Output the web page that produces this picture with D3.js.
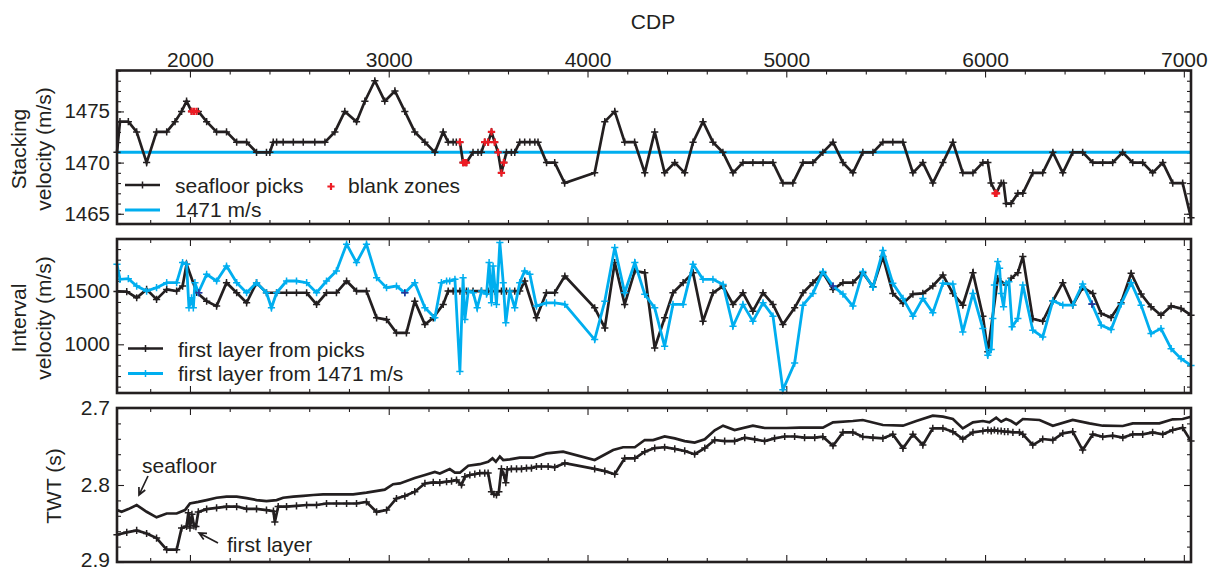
<!DOCTYPE html>
<html>
<head>
<meta charset="utf-8">
<script src="https://cdn.jsdelivr.net/npm/d3@7"></script>
<style>
  body { margin: 0; background: #fff; }
  svg { display: block; }
  text { font-family: "Liberation Sans", Arial, Helvetica, sans-serif; fill: #231f20; }
</style>
</head>
<body>
<svg id="chart" width="1222" height="571"></svg>
<script>
// ---------- CDP axis ----------
const cdpMajor = [2000, 3000, 4000, 5000, 6000, 7000];
const cdpMinor = d3.range(1800, 7001, 200).filter(v => v % 1000 !== 0);

// ---------- Panel 1: stacking velocity picks along the seafloor ----------
const stackCdp = [1633,1648,1690,1732,1782,1832,1883,1925,1958,1983,
  2008,2042,2084,2134,2184,2235,2285,2335,2385,2402,
  2419,2436,2469,2520,2570,2628,2679,2729,2779,2838,
  2880,2930,2980,3031,3081,3131,3182,3232,3274,3299,
  3324,3340,3358,3374,3391,3424,3449,3466,3483,3500,
  3517,3533,3550,3567,3579,3592,3617,3634,3659,3684,
  3710,3735,3751,3794,3835,3885,4036,4087,4137,4187,
  4237,4288,4338,4388,4439,4489,4531,4581,4631,4681,
  4732,4782,4832,4883,4933,4983,5033,5084,5134,5184,
  5235,5285,5335,5385,5436,5486,5536,5587,5637,5687,
  5737,5788,5838,5888,5939,5989,6014,6030,6056,6081,
  6093,6106,6131,6165,6190,6240,6290,6341,6391,6441,
  6491,6542,6592,6642,6692,6743,6793,6843,6894,6944,
  6994,7036];
const stackVel = [1471,1474,1474,1473,1470,1473,1473,1474,1475,1476,
  1475,1475,1474,1473,1473,1472,1472,1471,1471,1471,
  1472,1472,1472,1472,1472,1472,1472,1473,1475,1474,
  1476,1478,1476,1477,1475,1473,1472,1471,1473,1472,
  1472,1472,1472,1470,1470,1471,1471,1471,1472,1472,
  1473,1472,1471,1469,1470,1471,1471,1471,1472,1472,
  1472,1472,1472,1470,1470,1468,1469,1474,1475,1472,
  1472,1469,1473,1469,1470,1469,1472,1474,1472,1471,
  1469,1470,1470,1470,1470,1468,1468,1470,1470,1471,
  1472,1470,1469,1471,1471,1472,1472,1472,1469,1470,
  1468,1470,1472,1469,1469,1470,1470,1468,1467,1468,
  1468,1466,1466,1467,1467,1469,1469,1471,1469,1471,
  1471,1470,1470,1470,1471,1470,1470,1469,1470,1468,
  1468,1464.6];
const blankCdp = [2008,2020,2033,3358,3374,3383,3391,3483,3500,3517,3533,3550,3567,3579,6050,6058];
const blankVel = [1475,1475,1475,1472,1470,1470,1470,1472,1472,1473,1472,1471,1469,1470,1467,1467];
const constVel = 1471;

// ---------- Panel 2: first-layer interval velocity ----------
const intPickCdp = [1633,1682,1732,1782,1832,1883,1933,1963,1983,2034,
  2084,2134,2184,2235,2285,2335,2385,2436,2486,2536,
  2587,2637,2687,2737,2788,2838,2888,2939,2989,3039,
  3089,3131,3182,3224,3274,3299,3324,3358,3391,3424,
  3466,3500,3533,3567,3592,3634,3659,3684,3743,3793,
  3835,3886,4036,4087,4137,4187,4238,4288,4338,4388,
  4430,4481,4531,4581,4631,4682,4732,4782,4832,4883,
  4933,4983,5042,5084,5134,5184,5235,5285,5335,5385,
  5436,5486,5536,5587,5637,5687,5737,5788,5838,5888,
  5939,5989,6014,6064,6106,6131,6165,6190,6240,6290,
  6341,6391,6441,6491,6542,6584,6634,6684,6735,6785,
  6835,6885,6936,6986,7036];
const intPickVel = [1500,1497,1440,1519,1424,1519,1503,1550,1756,1490,
  1408,1361,1582,1487,1392,1582,1487,1487,1487,1487,
  1487,1377,1487,1487,1598,1503,1503,1250,1234,1108,
  1108,1408,1187,1250,1377,1503,1503,1503,1503,1503,
  1503,1503,1503,1503,1503,1503,1503,1598,1250,1487,
  1487,1645,1345,1155,1772,1377,1693,1677,965,1250,
  1487,1582,1677,1218,1487,1550,1377,1487,1313,1487,
  1377,1187,1345,1487,1582,1677,1519,1582,1582,1677,
  1544,1829,1481,1386,1475,1481,1551,1655,1481,1370,
  1677,1266,930,1620,1560,1623,1677,1829,1240,1218,
  1411,1582,1370,1538,1481,1291,1253,1392,1671,1475,
  1354,1275,1361,1338,1275];
const intConstCdp = [1633,1648,1690,1732,1782,1832,1883,1933,1963,1983,
  1995,2008,2017,2025,2042,2084,2134,2184,2235,2285,
  2335,2385,2410,2436,2486,2536,2587,2637,2687,2737,
  2788,2838,2888,2939,2989,3039,3081,3131,3182,3232,
  3265,3291,3307,3333,3358,3374,3383,3400,3425,3445,
  3467,3492,3505,3517,3525,3542,3559,3576,3589,3609,
  3634,3659,3684,3710,3743,3793,3835,3886,4036,4087,
  4137,4187,4238,4288,4338,4388,4430,4481,4531,4581,
  4631,4682,4732,4782,4832,4883,4933,4983,5042,5084,
  5134,5184,5235,5285,5335,5385,5436,5486,5536,5587,
  5637,5687,5737,5788,5838,5888,5939,5989,6014,6031,
  6039,6047,6064,6073,6081,6093,6106,6120,6136,6165,
  6190,6240,6290,6341,6391,6441,6491,6538,6584,6634,
  6684,6735,6785,6835,6885,6936,6986,7036];
const intConstVel = [1756,1614,1620,1550,1503,1535,1582,1582,1772,1756,
  1345,1440,1345,1582,1487,1661,1598,1740,1582,1487,
  1582,1487,1345,1487,1598,1598,1582,1487,1598,1693,
  1946,1772,1946,1630,1535,1550,1487,1582,1345,1250,
  1582,1598,1598,1614,744,1630,1234,1503,1487,1345,
  1503,1475,1772,1392,1740,1377,1962,1582,1203,1503,
  1345,1582,1693,1661,1361,1392,1392,1377,1045,1408,
  1914,1487,1772,1472,1345,981,1377,1377,1756,1614,
  1614,1566,1171,1377,1218,1392,1266,570,823,1370,
  1481,1687,1551,1475,1361,1687,1538,1886,1576,1434,
  1266,1434,1298,1576,1570,1117,1481,1149,896,950,
  1244,1560,1782,1718,1481,1354,1576,1592,1165,1244,
  1560,1133,1070,1411,1370,1370,1570,1380,1181,1139,
  1380,1582,1370,1101,1149,959,864,801];
const sharedCdp = [2045, 3081, 5235, 6538];
const sharedVel = [1487, 1487, 1551, 1380];

// ---------- Panel 3: two-way travel time ----------
const seafloorCdp = [1633,1656,1690,1732,1782,1832,1883,1933,1975,2000,
  2042,2084,2134,2184,2235,2285,2335,2385,2436,2469,
  2520,2570,2620,2670,2721,2821,2888,2980,3022,3056,
  3131,3182,3232,3257,3307,3333,3358,3400,3458,3500,
  3522,3539,3559,3576,3609,3659,3726,3793,3877,4036,
  4129,4179,4238,4288,4330,4388,4439,4489,4539,4590,
  4640,4682,4740,4832,4891,5000,5067,5184,5235,5335,
  5385,5486,5587,5654,5737,5788,5838,5888,5939,5989,
  6022,6056,6081,6106,6131,6157,6190,6274,6341,6441,
  6525,6592,6693,6743,6877,6944,6994,7036];
const seafloorTwt = [2.8326,2.8348,2.8313,2.826,2.8348,2.842,2.837,2.837,2.8326,2.824,
  2.822,2.8196,2.8166,2.815,2.815,2.817,2.8196,2.821,2.8196,2.8166,
  2.815,2.814,2.813,2.8122,2.8122,2.8122,2.810,2.806,2.799,2.798,
  2.791,2.787,2.783,2.785,2.7793,2.784,2.784,2.775,2.773,2.7698,
  2.7654,2.7698,2.763,2.7676,2.7667,2.7645,2.7645,2.7589,2.7567,2.7676,
  2.7546,2.751,2.751,2.7416,2.7416,2.737,2.7394,2.743,2.745,2.7407,
  2.729,2.7229,2.7286,2.7229,2.726,2.726,2.7256,2.7256,2.7186,2.7169,
  2.7156,2.7221,2.723,2.7169,2.710,2.7113,2.7143,2.7265,2.7186,2.7169,
  2.7186,2.7126,2.7178,2.7143,2.7169,2.7212,2.7143,2.7156,2.723,2.7156,
  2.720,2.723,2.7234,2.720,2.720,2.7147,2.7143,2.7113];
const layerCdp = [1633,1682,1732,1782,1832,1883,1933,1958,1983,1992,
  2000,2010,2020,2030,2042,2084,2134,2184,2235,2285,
  2335,2385,2420,2427,2444,2486,2536,2587,2637,2687,
  2737,2788,2838,2888,2939,2989,3039,3081,3131,3182,
  3224,3257,3291,3316,3341,3366,3383,3408,3433,3458,
  3483,3500,3517,3529,3542,3554,3567,3579,3589,3596,
  3617,3643,3668,3693,3718,3743,3768,3802,3835,3886,
  4036,4087,4137,4187,4238,4288,4338,4388,4439,4489,
  4539,4590,4640,4690,4740,4791,4841,4891,4941,4992,
  5042,5092,5143,5184,5235,5285,5335,5385,5436,5486,
  5536,5587,5637,5687,5737,5788,5838,5888,5939,5989,
  6014,6031,6047,6064,6081,6098,6115,6140,6173,6190,
  6240,6290,6341,6391,6441,6491,6542,6592,6642,6693,
  6743,6793,6843,6894,6944,6994,7036];
const layerTwt = [2.8646,2.8615,2.859,2.863,2.8689,2.884,2.884,2.856,2.8537,2.836,
  2.856,2.838,2.853,2.854,2.835,2.8313,2.8296,2.828,2.828,2.831,
  2.831,2.8326,2.834,2.848,2.828,2.828,2.827,2.826,2.826,2.824,
  2.824,2.824,2.824,2.822,2.835,2.8326,2.8175,2.8144,2.8087,2.798,
  2.7966,2.797,2.7957,2.7949,2.7936,2.800,2.7892,2.787,2.786,2.7845,
  2.7845,2.7845,2.8087,2.812,2.813,2.8087,2.779,2.787,2.797,2.780,
  2.779,2.779,2.779,2.778,2.778,2.776,2.776,2.776,2.777,2.7715,
  2.779,2.782,2.786,2.7654,2.7654,2.7567,2.752,2.751,2.753,2.7558,
  2.760,2.752,2.7416,2.743,2.743,2.7385,2.7407,2.743,2.7394,2.737,
  2.737,2.7385,2.7385,2.7373,2.749,2.7316,2.7316,2.7373,2.7385,2.7394,
  2.7342,2.7524,2.7342,2.7481,2.7264,2.7264,2.7307,2.7403,2.7316,2.7299,
  2.7286,2.7299,2.7286,2.7299,2.7299,2.7307,2.7307,2.7316,2.7316,2.7342,
  2.7481,2.7403,2.7416,2.7329,2.7307,2.7546,2.7342,2.7373,2.736,2.7385,
  2.7342,2.7342,2.7316,2.7342,2.7286,2.7256,2.743];

// ---------- styling ----------
const INK = "#231f20", CYAN = "#00aeef", RED = "#ed1c24", NAVY = "#2e3192";
const LW = 2.7, MW = 1.5;
const svg = d3.select("#chart");
const x = d3.scaleLinear().domain([1633, 7036]).range([117, 1191]);

const pts = (xs, ys) => d3.zip(xs, ys);
const plusPath = s => `M${-s},0H${s}M0,${-s}V${s}`;

function frame(y, top, bottom, yMajor, yMinor, yFmt, showX, yFont) {
  const g = svg.append("g");
  const ax = (gen, tr) => {
    const a = g.append("g").attr("transform", tr).call(gen);
    a.select(".domain").remove();
    a.selectAll("line").attr("stroke", INK).attr("stroke-width", 1.1);
    return a;
  };
  // x ticks along top and bottom edges (inward)
  const topMaj = ax(d3.axisTop(x).tickValues(cdpMajor).tickSize(-7).tickPadding(4)
    .tickFormat(showX ? d3.format("d") : () => ""), `translate(0,${top})`);
  topMaj.selectAll("text").attr("font-size", 21).attr("fill", INK)
    .style("font-family", '"Liberation Sans", Arial, sans-serif');
  ax(d3.axisTop(x).tickValues(cdpMinor).tickSize(-4).tickFormat(() => ""), `translate(0,${top})`);
  ax(d3.axisBottom(x).tickValues(cdpMajor).tickSize(-7).tickFormat(() => ""), `translate(0,${bottom})`);
  ax(d3.axisBottom(x).tickValues(cdpMinor).tickSize(-4).tickFormat(() => ""), `translate(0,${bottom})`);
  // y ticks along left and right edges (inward)
  const left = ax(d3.axisLeft(y).tickValues(yMajor).tickSize(-7).tickPadding(7).tickFormat(yFmt), `translate(117,0)`);
  left.selectAll("text").attr("font-size", yFont).attr("fill", INK)
    .style("font-family", '"Liberation Sans", Arial, sans-serif');
  ax(d3.axisLeft(y).tickValues(yMinor).tickSize(-4).tickFormat(() => ""), `translate(117,0)`);
  ax(d3.axisRight(y).tickValues(yMajor).tickSize(-7).tickFormat(() => ""), `translate(1191,0)`);
  ax(d3.axisRight(y).tickValues(yMinor).tickSize(-4).tickFormat(() => ""), `translate(1191,0)`);
  return left;
}

function box(top, bottom) {
  svg.append("rect").attr("x", 117).attr("y", top).attr("width", 1191 - 117)
    .attr("height", bottom - top).attr("fill", "none").attr("stroke", INK).attr("stroke-width", 2.6);
}

function series(g, y, data, color, width, marker, markerColor) {
  const line = d3.line().x(d => x(d[0])).y(d => y(d[1]));
  g.append("path").datum(data).attr("d", line).attr("fill", "none")
    .attr("stroke", color).attr("stroke-width", width).attr("stroke-linejoin", "miter");
  if (marker) markers(g, y, data, markerColor || color, marker);
}
function markers(g, y, data, color, size, sw) {
  g.append("g").selectAll("path").data(data).join("path")
    .attr("transform", d => `translate(${x(d[0])},${y(d[1])})`)
    .attr("d", plusPath(size)).attr("stroke", color).attr("stroke-width", sw || MW).attr("fill", "none");
}

function yTitle(lines, xs, cy, size) {
  lines.forEach((t, i) => {
    svg.append("text").attr("transform", `translate(${xs[i]},${cy}) rotate(-90)`)
      .attr("text-anchor", "middle").attr("font-size", size).text(t);
  });
}

// ---------- Panel 1 ----------
const y1 = d3.scaleLinear().domain([1464, 1479]).range([224, 70.5]);
frame(y1, 70.5, 224, [1465, 1470, 1475], d3.range(1464, 1480, 1), d3.format("d"), true, 20.5);
const p1 = svg.append("g");
p1.append("line").attr("x1", x(1633)).attr("x2", x(7036)).attr("y1", y1(constVel)).attr("y2", y1(constVel))
  .attr("stroke", CYAN).attr("stroke-width", 3);
series(p1, y1, pts(stackCdp, stackVel), INK, LW, 3.6);
markers(p1, y1, pts(blankCdp, blankVel), RED, 3.6, 2.2);
box(70.5, 224);

// legend
p1.append("line").attr("x1", 125).attr("x2", 160).attr("y1", 185).attr("y2", 185).attr("stroke", INK).attr("stroke-width", LW);
p1.append("path").attr("d", plusPath(3.6)).attr("transform", "translate(142.5,185)").attr("stroke", INK).attr("stroke-width", MW);
svg.append("text").attr("x", 175).attr("y", 193).attr("font-size", 21).text("seafloor picks");
p1.append("path").attr("d", plusPath(3.6)).attr("transform", "translate(331,186.5)").attr("stroke", RED).attr("stroke-width", 2.2);
svg.append("text").attr("x", 348).attr("y", 193).attr("font-size", 21).text("blank zones");
p1.append("line").attr("x1", 125).attr("x2", 160).attr("y1", 210).attr("y2", 210).attr("stroke", CYAN).attr("stroke-width", 3);
svg.append("text").attr("x", 175).attr("y", 217).attr("font-size", 21).text("1471 m/s");
yTitle(["Stacking", "velocity (m/s)"], [26, 51], 149, 21);

// CDP title
svg.append("text").attr("x", 653).attr("y", 29).attr("text-anchor", "middle").attr("font-size", 21).text("CDP");

// ---------- Panel 2 ----------
const y2 = d3.scaleLinear().domain([540, 1995]).range([393, 239]);
frame(y2, 239, 393, [1000, 1500], d3.range(600, 1901, 100).filter(v => v % 500 !== 0), d3.format("d"), false, 20.5);
const p2 = svg.append("g");
series(p2, y2, pts(intPickCdp, intPickVel), INK, LW, 3.6);
series(p2, y2, pts(intConstCdp, intConstVel), CYAN, 2.8, 3.6);
markers(p2, y2, pts(sharedCdp, sharedVel), NAVY, 3.6, 1.6);
box(239, 393);

p2.append("line").attr("x1", 128).attr("x2", 163).attr("y1", 348.5).attr("y2", 348.5).attr("stroke", INK).attr("stroke-width", LW);
p2.append("path").attr("d", plusPath(3.6)).attr("transform", "translate(145.5,348.5)").attr("stroke", INK).attr("stroke-width", MW);
svg.append("text").attr("x", 178).attr("y", 356.5).attr("font-size", 21).text("first layer from picks");
p2.append("line").attr("x1", 128).attr("x2", 163).attr("y1", 373.5).attr("y2", 373.5).attr("stroke", CYAN).attr("stroke-width", 2.8);
p2.append("path").attr("d", plusPath(3.6)).attr("transform", "translate(145.5,373.5)").attr("stroke", CYAN).attr("stroke-width", MW);
svg.append("text").attr("x", 178).attr("y", 380.5).attr("font-size", 21).text("first layer from 1471 m/s");
yTitle(["Interval", "velocity (m/s)"], [26, 51], 318, 21);

// ---------- Panel 3 ----------
const y3 = d3.scaleLinear().domain([2.7, 2.9]).range([408, 562]);
const twtLabels = frame(y3, 408, 562, [2.7, 2.8, 2.9], d3.range(2.72, 2.89, 0.02).filter((v, i) => i !== 4), d3.format(".1f"), false, 21);
// keep the lowest label inside the page
twtLabels.selectAll(".tick text").filter(d => d === 2.9).attr("dy", "0.2em");
const p3 = svg.append("g");
series(p3, y3, pts(seafloorCdp, seafloorTwt), INK, LW, 0);
series(p3, y3, pts(layerCdp, layerTwt), INK, LW, 3.6);
box(408, 562);
yTitle(["TWT (s)"], [61], 486, 21);

// annotations with arrows
function arrow(x0, y0, x1, y1) {
  const a = Math.atan2(y1 - y0, x1 - x0), h = 8, s = 0.45;
  const d = `M${x0},${y0}L${x1},${y1}` +
    `M${x1 - h * Math.cos(a - s)},${y1 - h * Math.sin(a - s)}L${x1},${y1}` +
    `L${x1 - h * Math.cos(a + s)},${y1 - h * Math.sin(a + s)}`;
  svg.append("path").attr("d", d).attr("fill", "none").attr("stroke", INK).attr("stroke-width", 1.7);
}
svg.append("text").attr("x", 142).attr("y", 473).attr("font-size", 21).text("seafloor");
arrow(148, 476, 139, 495);
svg.append("text").attr("x", 227).attr("y", 552).attr("font-size", 21).text("first layer");
arrow(218, 543, 199, 533);
</script>
</body>
</html>
